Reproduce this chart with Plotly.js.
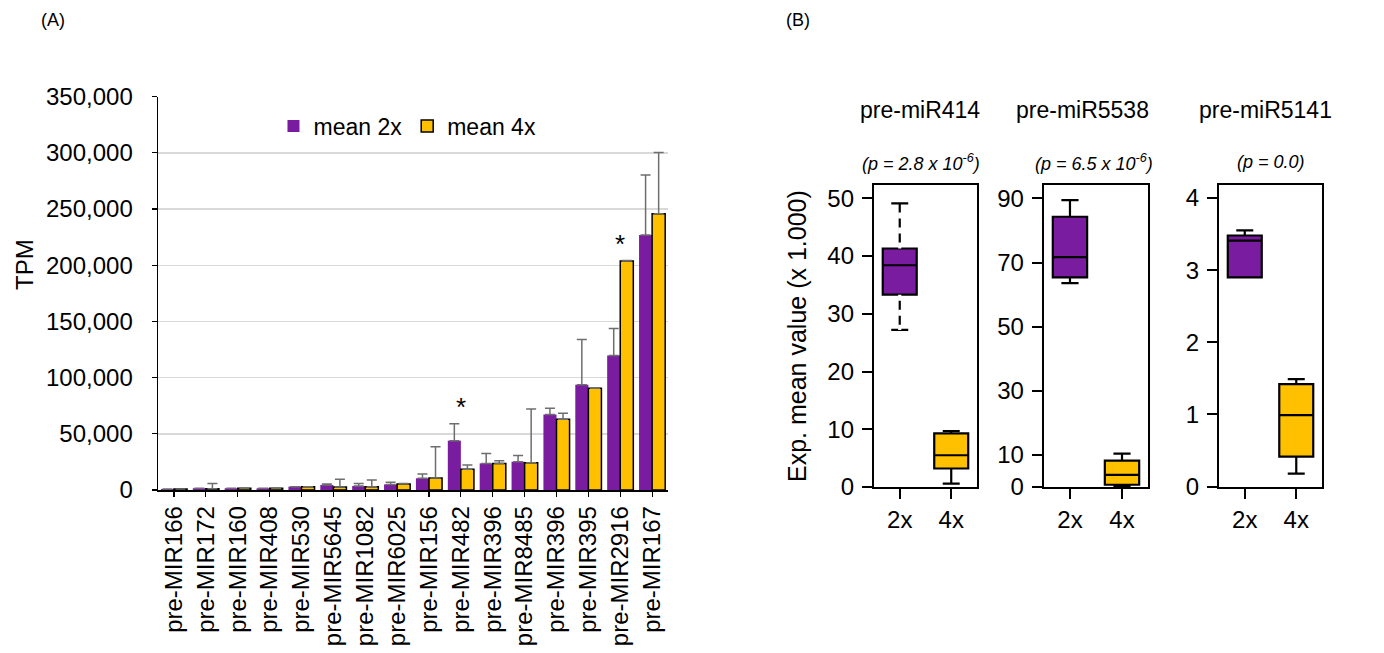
<!DOCTYPE html>
<html>
<head>
<meta charset="utf-8">
<script src="https://cdn.plot.ly/plotly-3.0.1.min.js"></script>
<style>html,body{margin:0;padding:0;background:#fff;}#chart{width:1384px;height:653px;}</style>
</head>
<body>
<div id="chart"></div>
<script>
// ---------- Panel A data ----------
const miRNAs = ['pre-MIR166','pre-MIR172','pre-MIR160','pre-MIR408','pre-MIR530','pre-MIR5645','pre-MIR1082','pre-MIR6025','pre-MIR156','pre-MIR482','pre-MIR396','pre-MIR8485','pre-MIR396','pre-MIR395','pre-MIR2916','pre-MIR167'];
const mean2x = [1000, 1500, 1500, 1500, 3000, 4500, 3600, 5000, 10400, 43900, 23700, 25200, 67300, 93700, 119800, 226900];
const mean4x = [800, 1200, 1500, 1500, 3000, 2700, 3000, 5300, 10700, 18400, 23700, 24300, 62900, 90500, 203700, 245900];
const err2x  = [0, 0, 0, 0, 0, 800, 2300, 1800, 3800, 15100, 8900, 5600, 5400, 40300, 24000, 53400];
const err4x  = [0, 4700, 0, 0, 0, 6800, 5900, 600, 27800, 3800, 2400, 47800, 5300, 500, 600, 54500];
const significant = [9, 14]; // indices marked with *
const tpmTicks = [0, 50000, 100000, 150000, 200000, 250000, 300000, 350000];

// ---------- Panel B data ----------
const groups = ['2x', '4x'];
const boxTitles = ['pre-miR414', 'pre-miR5538', 'pre-miR5141'];
const pTexts = ['(p = 2.8 x 10<sup>-6</sup>)', '(p = 6.5 x 10<sup>-6</sup>)', '(p = 0.0)'];
const q1_414 = [33.3, 3.2],  med_414 = [38.4, 5.5],  q3_414 = [41.3, 9.3],  lo_414 = [27.2, 0.6],  hi_414 = [49.1, 9.7];
const q1_5538 = [65.4, 0.7], med_5538 = [71.7, 3.8], q3_5538 = [84.3, 8.2], lo_5538 = [63.6, 0.2], hi_5538 = [89.5, 10.4];
const q1_5141 = [2.90, 0.415], med_5141 = [3.41, 0.99], q3_5141 = [3.48, 1.42], lo_5141 = [2.90, 0.18], hi_5141 = [3.55, 1.49];
const dashedWhiskers = [[0, 0]]; // [panel, group] drawn with dashed whiskers
const ticks414 = [0, 10, 20, 30, 40, 50];
const ticks5538 = [0, 10, 30, 50, 70, 90];
const ticks5141 = [0, 1, 2, 3, 4];

const PURPLE = '#7A1CA0';
const YELLOW = '#FFC000';
const FONT = 'Arial, "Liberation Sans", sans-serif';
const idx = miRNAs.map((_, i) => i);

const traces = [];
traces.push({
  type: 'bar', name: 'mean 2x', x: idx, y: mean2x,
  marker: {color: PURPLE, line: {width: 0}},
  error_y: {type: 'data', symmetric: false, array: err2x, arrayminus: err2x.map(() => 0), color: '#6e6e6e', thickness: 1.5, width: 5},
  xaxis: 'x', yaxis: 'y', hoverinfo: 'none'
});
traces.push({
  type: 'bar', name: 'mean 4x', x: idx, y: mean4x,
  marker: {color: YELLOW, line: {color: '#000', width: 1.5}},
  error_y: {type: 'data', symmetric: false, array: err4x, arrayminus: err4x.map(() => 0), color: '#6e6e6e', thickness: 1.5, width: 5},
  xaxis: 'x', yaxis: 'y', hoverinfo: 'none'
});

const boxSets = [
  {q1: q1_414, med: med_414, q3: q3_414, lo: lo_414, hi: hi_414},
  {q1: q1_5538, med: med_5538, q3: q3_5538, lo: lo_5538, hi: hi_5538},
  {q1: q1_5141, med: med_5141, q3: q3_5141, lo: lo_5141, hi: hi_5141}
];
const colors = [PURPLE, YELLOW];
boxSets.forEach((s, k) => {
  groups.forEach((g, j) => {
    traces.push({
      type: 'box', x: [g], q1: [s.q1[j]], median: [s.med[j]], q3: [s.q3[j]],
      lowerfence: [s.lo[j]], upperfence: [s.hi[j]],
      fillcolor: colors[j], line: {color: '#000', width: 2.2},
      width: 0.66, whiskerwidth: 0.5, boxpoints: false, showlegend: false, hoverinfo: 'none',
      xaxis: 'x' + (k + 2), yaxis: 'y' + (k + 2)
    });
  });
});
// dashed whisker stems: white dashes laid over the solid stems
dashedWhiskers.forEach(([k, j]) => {
  const s = boxSets[k], g = groups[j];
  traces.push({
    type: 'scatter', mode: 'lines', x: [g, g, g, g, g],
    y: [s.q3[j], s.hi[j], null, s.q1[j], s.lo[j]],
    line: {color: '#fff', width: 3.2, dash: '6px,9px'}, connectgaps: false,
    showlegend: false, hoverinfo: 'none', xaxis: 'x' + (k + 2), yaxis: 'y' + (k + 2)
  });
});

function ann(o) {
  return Object.assign({showarrow: false, xanchor: 'center', yanchor: 'middle'}, o);
}
const annotations = [];
annotations.push(ann({text: '(A)', xref: 'paper', yref: 'paper', x: 53 / 1384, y: 1 - 20 / 653, font: {size: 18, family: FONT, color: '#000'}}));
annotations.push(ann({text: '(B)', xref: 'paper', yref: 'paper', x: 798 / 1384, y: 1 - 20 / 653, font: {size: 18, family: FONT, color: '#000'}}));
annotations.push(ann({text: 'TPM', xref: 'paper', yref: 'paper', x: 24 / 1384, y: 1 - 264 / 653, textangle: -90, font: {size: 24, family: FONT, color: '#000'}}));
annotations.push(ann({text: 'Exp. mean value (x 1.000)', xref: 'paper', yref: 'paper', x: 797 / 1384, y: 1 - 336 / 653, textangle: -90, font: {size: 25, family: FONT, color: '#000'}}));
significant.forEach(i => {
  annotations.push(ann({text: '*', xref: 'x', yref: 'y', x: i,
    y: Math.max(mean2x[i] + err2x[i], mean4x[i] + err4x[i]) + 15000,
    font: {size: 26, family: FONT, color: '#000'}}));
});
const titleX = [0.447, 0.375, 0.447];
const pX = [0.457, 0.48, 0.5];
boxTitles.forEach((t, k) => {
  annotations.push(ann({text: t, xref: 'x' + (k + 2) + ' domain', yref: 'paper', x: titleX[k], y: 1 - 110 / 653, font: {size: 23, family: FONT, color: '#000'}}));
  annotations.push(ann({text: '<i>' + pTexts[k] + '</i>', xref: 'x' + (k + 2) + ' domain', yref: 'paper', x: pX[k], y: 1 - 162 / 653, font: {size: 18, family: FONT, color: '#000'}}));
});

const boxDomainsX = [[0.6315, 0.7059], [0.7543, 0.8295], [0.8808, 0.9552]];
const boxRanges = [[0, 52.3], [0, 94.2], [-0.005, 4.18]];
const boxTicks = [ticks414, ticks5538, ticks5141];

const layout = {
  width: 1384, height: 653,
  margin: {l: 0, r: 0, t: 0, b: 0},
  paper_bgcolor: '#fff', plot_bgcolor: '#fff',
  font: {family: FONT, color: '#000'},
  barmode: 'group', bargap: 0.18, bargroupgap: 0,
  showlegend: true,
  legend: {orientation: 'h', x: 0.1976, xanchor: 'left', y: 0.807, yanchor: 'middle', font: {size: 23, family: FONT}, bgcolor: 'rgba(0,0,0,0)', itemwidth: 30, tracegroupgap: 0},
  xaxis: {
    domain: [0.1142, 0.4827], range: [-0.5, 15.5], tickmode: 'array', tickvals: idx, ticktext: miRNAs,
    tickangle: -90, ticks: 'outside', ticklen: 5, tickcolor: '#000', tickwidth: 1.2,
    showline: true, linecolor: '#000', linewidth: 1.5, showgrid: false, zeroline: false,
    tickfont: {size: 24, family: FONT}, anchor: 'y', fixedrange: true
  },
  yaxis: {
    domain: [0.2496, 0.8519], range: [0, 350000], tickmode: 'array', tickvals: tpmTicks, tickformat: ',',
    ticks: 'outside', ticklen: 5, tickcolor: '#000', tickwidth: 1.2,
    showline: true, linecolor: '#000', linewidth: 1.5, showgrid: true, gridcolor: '#d9d9d9', gridwidth: 1.5, zeroline: false,
    tickfont: {size: 24, family: FONT}, ticklabelstandoff: 14, anchor: 'x', fixedrange: true
  },
  annotations: annotations
};
boxDomainsX.forEach((d, k) => {
  const n = k + 2;
  layout['xaxis' + n] = {
    domain: d, anchor: 'y' + n, type: 'category', categoryorder: 'array', categoryarray: groups, range: [-0.5, 1.5],
    ticks: 'outside', ticklen: 10, tickwidth: 2, tickcolor: '#000',
    showline: true, mirror: true, linecolor: '#000', linewidth: 2.2, showgrid: false, zeroline: false,
    tickfont: {size: 24, family: FONT}, fixedrange: true
  };
  layout['yaxis' + n] = {
    domain: [0.2542, 0.7167], anchor: 'x' + n, range: boxRanges[k], tickmode: 'array', tickvals: boxTicks[k],
    ticks: 'outside', ticklen: 10, tickwidth: 2, tickcolor: '#000',
    showline: true, mirror: true, linecolor: '#000', linewidth: 2.2, showgrid: false, zeroline: false,
    tickfont: {size: 24, family: FONT}, ticklabelstandoff: 3, fixedrange: true
  };
});

Plotly.newPlot('chart', traces, layout, {displayModeBar: false, staticPlot: true});
</script>
</body>
</html>
